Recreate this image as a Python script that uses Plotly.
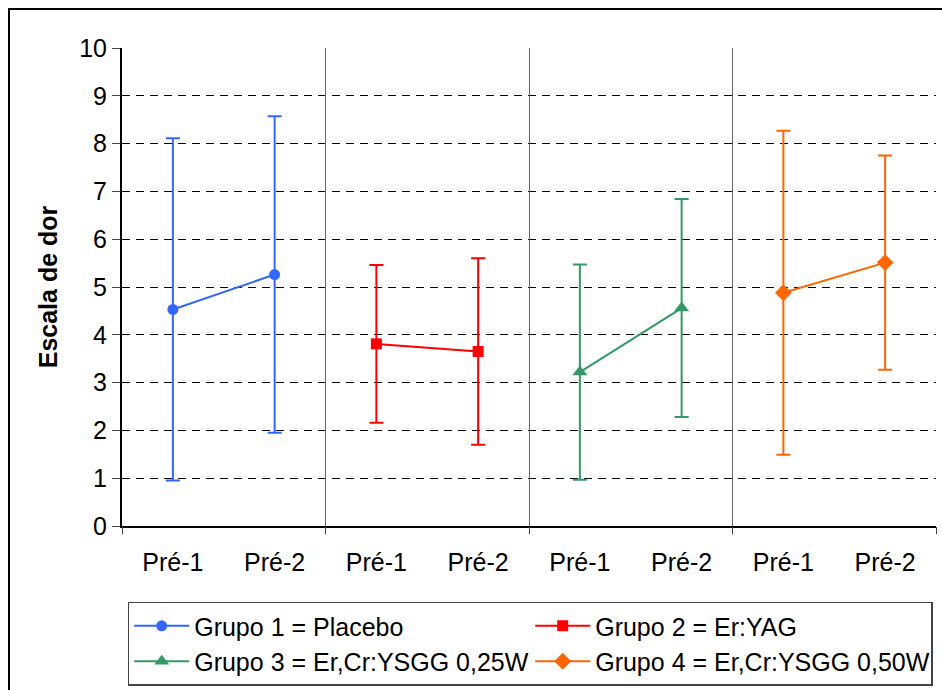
import plotly.graph_objects as go

categories = ["Pré-1", "Pré-2", "Pré-1", "Pré-2", "Pré-1", "Pré-2", "Pré-1", "Pré-2"]
group_names = [
    "Grupo 1 = Placebo",
    "Grupo 2 = Er:YAG",
    "Grupo 3 = Er,Cr:YSGG 0,25W",
    "Grupo 4 = Er,Cr:YSGG 0,50W",
]
g1_mean = [4.53, 5.26]
g1_sd = [3.58, 3.31]
g2_mean = [3.81, 3.65]
g2_sd = [1.65, 1.95]
g3_mean = [3.22, 4.56]
g3_sd = [2.25, 2.28]
g4_mean = [4.88, 5.51]
g4_sd = [3.39, 2.24]
y_ticks = [0, 1, 2, 3, 4, 5, 6, 7, 8, 9, 10]

means = [g1_mean, g2_mean, g3_mean, g4_mean]
sds = [g1_sd, g2_sd, g3_sd, g4_sd]
colors = ["#3366FF", "#FF0000", "#339966", "#FF6600"]
symbols = ["circle", "square", "triangle-up", "diamond"]
msizes = [11, 11, 13, 13]

FONT = "Liberation Sans, Arial, sans-serif"

fig = go.Figure()
for g in range(4):
    xs = [2 * g + 0.5, 2 * g + 1.5]
    fig.add_trace(go.Scatter(
        x=xs, y=means[g], name=group_names[g], mode="lines+markers",
        line=dict(color=colors[g], width=2),
        marker=dict(symbol=symbols[g], size=msizes[g], color=colors[g]),
        error_y=dict(type="data", array=sds[g], visible=True,
                     color=colors[g], thickness=2, width=7),
    ))

# invisible trace on overlay axis for group separators / ticks
fig.add_trace(go.Scatter(x=[0, 8], y=[0, 0], xaxis="x2", mode="lines",
                         line=dict(width=0), showlegend=False, hoverinfo="skip"))

fig.update_layout(
    width=942, height=690,
    margin=dict(l=122, r=6, t=48, b=164, autoexpand=False),
    paper_bgcolor="white", plot_bgcolor="white",
    font=dict(family=FONT, size=25, color="black"),
    showlegend=True,
    xaxis=dict(
        range=[0, 8], tickmode="array",
        tickvals=[i + 0.5 for i in range(len(categories))],
        ticktext=categories,
        ticks="outside", ticklen=13, tickcolor="rgba(0,0,0,0)",
        showgrid=False, zeroline=False,
        showline=True, linecolor="black", linewidth=2,
        tickfont=dict(size=25), fixedrange=True,
    ),
    xaxis2=dict(
        range=[0, 8], overlaying="x", anchor="y", side="bottom",
        tickmode="array", tickvals=[0, 2, 4, 6, 8],
        showticklabels=False, ticks="outside", ticklen=7, tickcolor="#444444",
        showgrid=True, gridcolor="#666666", gridwidth=1,
        zeroline=False, showline=False,
    ),
    yaxis=dict(
        range=[0, 10], tickmode="array", tickvals=y_ticks,
        ticks="outside", ticklen=8, tickcolor="#444444",
        showgrid=True, gridcolor="black", gridwidth=1, griddash="8px,6px",
        zeroline=False, showline=True, linecolor="black", linewidth=2,
        tickfont=dict(size=25),
        title=dict(text="<b>Escala de dor</b>", font=dict(size=25), standoff=14),
    ),
    legend=dict(
        orientation="h", x=0.007, xanchor="left", y=-0.158, yanchor="top",
        bordercolor="#444444", borderwidth=1.5, bgcolor="white",
        font=dict(size=25), entrywidth=331, entrywidthmode="pixels",
        itemwidth=55, tracegroupgap=0,
    ),
    shapes=[dict(
        type="rect", xref="paper", yref="paper",
        x0=-(122 - 9) / 814, x1=1.2, y0=-1.0, y1=(526 - 9) / 478,
        line=dict(color="black", width=2), layer="below",
    )],
)

fig.write_html("out.html")
